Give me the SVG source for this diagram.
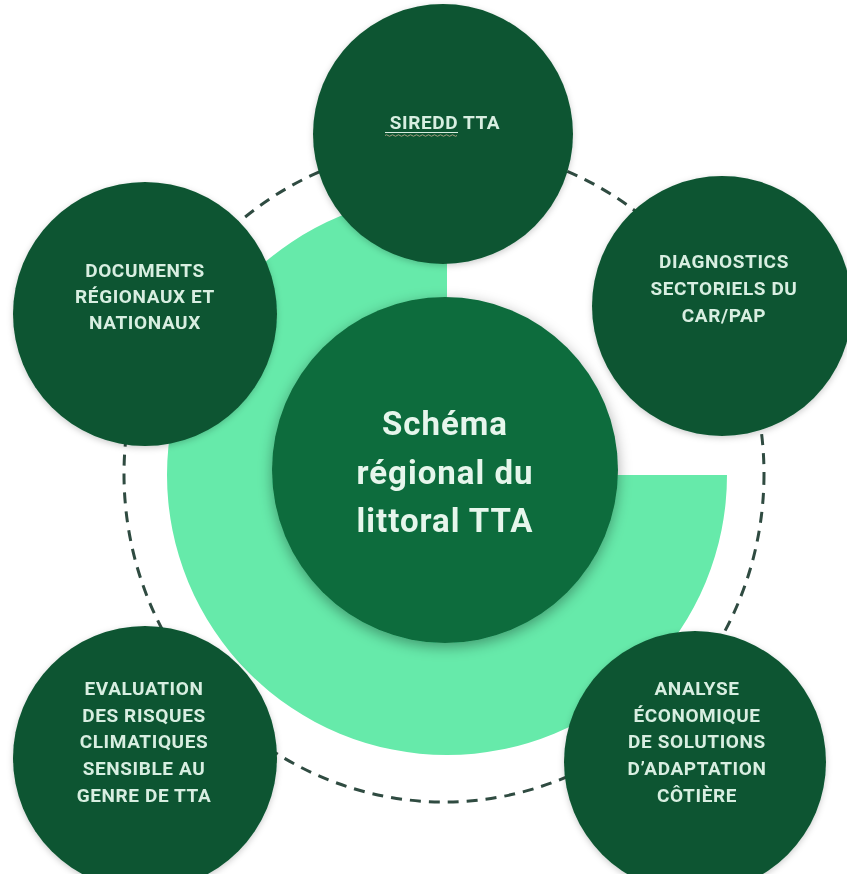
<svg xmlns="http://www.w3.org/2000/svg" width="847" height="874" viewBox="0 0 847 874">
  <style>
    .outer { fill: #0b5531; }
    .center { fill: #0e6c3e; }
    .lbl { font-family: Roboto, "Liberation Sans", sans-serif; font-weight: 700; font-size: 19px; letter-spacing: 0.6px; fill: #d8eee1; text-anchor: middle; }
    .main { font-family: Roboto, "Liberation Sans", sans-serif; font-weight: 700; font-size: 33px; letter-spacing: 1px; fill: #e6f6ec; text-anchor: middle; }
  </style>
  <defs>
    <filter id="sh" x="-30%" y="-30%" width="160%" height="160%">
      <feDropShadow dx="0" dy="4" stdDeviation="7" flood-color="#000" flood-opacity="0.35"/>
    </filter>
    <filter id="sh2" x="-30%" y="-30%" width="160%" height="160%">
      <feDropShadow dx="0" dy="2" stdDeviation="3" flood-color="#000" flood-opacity="0.2"/>
    </filter>
  </defs>
  <rect width="847" height="874" fill="#ffffff"/>

  <g id="ring">
    <path d="M 447 475 L 447 195 A 280 280 0 1 0 727 475 Z" fill="#66eaaa"/>
  </g>

  <g id="connectors">
    <ellipse cx="444" cy="474" rx="320" ry="328" fill="none" stroke="#2f4b41" stroke-width="3" stroke-dasharray="11 8"/>
  </g>

  <g id="node-siredd" filter="url(#sh2)">
    <circle class="outer" cx="443" cy="134" r="130"/>
    <text class="lbl" x="445" y="129">SIREDD TTA</text>
    <line x1="385" y1="132.5" x2="458" y2="132.5" stroke="#d8eee1" stroke-width="1.2"/>
    <path d="M 385 135.5 q 1.5 -1.5 3 0 t 3 0 t 3 0 t 3 0 t 3 0 t 3 0 t 3 0 t 3 0 t 3 0 t 3 0 t 3 0 t 3 0 t 3 0 t 3 0 t 3 0 t 3 0 t 3 0 t 3 0 t 3 0 t 3 0 t 3 0 t 3 0 t 3 0 t 3 0" fill="none" stroke="#a89f82" stroke-width="1"/>
  </g>

  <g id="node-documents" filter="url(#sh2)">
    <circle class="outer" cx="145" cy="314" r="132"/>
    <text class="lbl" x="145" y="277">DOCUMENTS</text>
    <text class="lbl" x="145" y="303">RÉGIONAUX ET</text>
    <text class="lbl" x="145" y="329">NATIONAUX</text>
  </g>

  <g id="node-diagnostics" filter="url(#sh2)">
    <circle class="outer" cx="722" cy="306" r="130"/>
    <text class="lbl" x="724" y="268">DIAGNOSTICS</text>
    <text class="lbl" x="724" y="295">SECTORIELS DU</text>
    <text class="lbl" x="724" y="322">CAR/PAP</text>
  </g>

  <g id="node-evaluation" filter="url(#sh2)">
    <circle class="outer" cx="145" cy="758" r="132"/>
    <text class="lbl" x="144" y="695">EVALUATION</text>
    <text class="lbl" x="144" y="722">DES RISQUES</text>
    <text class="lbl" x="144" y="748">CLIMATIQUES</text>
    <text class="lbl" x="144" y="775">SENSIBLE AU</text>
    <text class="lbl" x="144" y="802">GENRE DE TTA</text>
  </g>

  <g id="node-analyse" filter="url(#sh2)">
    <circle class="outer" cx="695" cy="762" r="131"/>
    <text class="lbl" x="697" y="695">ANALYSE</text>
    <text class="lbl" x="697" y="722">ÉCONOMIQUE</text>
    <text class="lbl" x="697" y="748">DE SOLUTIONS</text>
    <text class="lbl" x="697" y="775">D’ADAPTATION</text>
    <text class="lbl" x="697" y="802">CÔTIÈRE</text>
  </g>

  <g id="node-center" filter="url(#sh)">
    <circle class="center" cx="445" cy="470" r="173"/>
    <text class="main" x="445" y="435">Schéma</text>
    <text class="main" x="445" y="484">régional du</text>
    <text class="main" x="445" y="532">littoral TTA</text>
  </g>
</svg>
